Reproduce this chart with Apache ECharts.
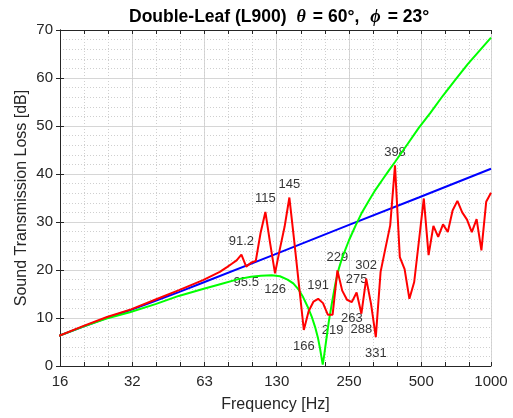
<!DOCTYPE html>
<html>
<head>
<meta charset="utf-8">
<script src="https://cdn.jsdelivr.net/npm/echarts@6/dist/echarts.min.js"></script>
<style>
html, body { margin: 0; padding: 0; background: #fff; }
#chart { width: 513px; height: 418px; }
</style>
</head>
<body>
<div id="chart"></div>
<script>
// frequency axis limits [Hz]
const fMin = 16;
const fMax = 1000;
const xTickValues = [16, 32, 64, 128, 256, 512, 1000];
const xTickLabels = ['16', '32', '63', '130', '250', '500', '1000'];

// red: computed double-leaf TL (1/50 decade points above ~90 Hz)
const redFreq = [15.85, 19.95, 25.12, 31.62, 39.81, 50.12, 63.1, 74.13, 79.43, 83.18, 87.1,
  91.2, 95.5, 100, 104.7, 109.6, 114.8, 120.2, 125.9, 131.8, 138, 144.5, 151.4, 158.5, 166,
  173.8, 182, 190.5, 199.5, 208.9, 218.8, 229.1, 239.9, 251.2, 263, 275.4, 288.4, 302, 316.2,
  331.1, 346.7, 363.1, 380.2, 398.1, 416.9, 436.5, 457.1, 478.6, 501.2, 524.8, 549.5, 575.4,
  602.6, 631, 660.7, 691.8, 724.4, 758.6, 794.3, 831.8, 871, 912, 955, 1000];
const redTL = [6.3, 8.3, 10.2, 11.8, 13.8, 15.8, 17.9, 19.6, 20.6, 21.3, 22.0,
  23.2, 20.7, 21.5, 21.9, 27.7, 32.1, 25.5, 19.3, 24.3, 29.0, 35.1, 26.0, 16.8, 7.5,
  11.4, 13.4, 14.0, 13.1, 10.7, 10.7, 19.9, 15.7, 13.8, 13.3, 15.3, 10.9, 18.2, 13.0,
  6.0, 19.6, 24.5, 29.3, 41.8, 22.7, 20.2, 14.0, 17.5, 26.2, 34.9, 23.1, 29.2,
  26.9, 29.5, 27.9, 32.4, 34.4, 32.0, 30.5, 27.9, 30.6, 24.1, 34.2, 36.1];

// blue: single-leaf mass law
const blueFreq = [15.85, 20, 25, 31.25, 40, 50, 62.5, 125, 250, 500, 1000];
const blueTL = [6.3, 8.2, 10.0, 11.6, 13.6, 15.4, 17.3, 23.2, 29.2, 35.1, 41.1];

// green: theoretical double-leaf with mass-air-mass dip
const greenFreq = [15.85, 20, 25, 31.25, 40, 50, 62.5, 75, 88.6, 100, 110, 122, 132, 142, 150,
  158, 165, 172, 179, 185, 190, 194, 197, 199, 201.5, 204, 207, 211, 218, 225, 232, 240, 256,
  273, 290, 311, 330, 354, 375, 398, 450, 500, 560, 630, 707, 800, 900, 1000];
const greenTL = [6.3, 8.2, 9.9, 11.2, 12.9, 14.6, 16.0, 17.1, 18.1, 18.6, 18.8, 18.9, 18.7,
  18.0, 17.2, 15.9, 14.3, 12.4, 10.3, 8.1, 5.9, 3.6, 1.6, 0.3, 2.0, 4.0, 6.3, 9.3, 13.5,
  17.3, 20.2, 22.6, 26.2, 29.3, 32.0, 34.6, 36.7, 38.9, 40.7, 42.5, 46.3, 49.6, 52.8, 56.3,
  59.5, 62.9, 65.8, 68.4];

// labelled extrema of the red curve
const peakFreq = [91.2, 114.8, 144.5, 190.5, 229.1, 275.4, 302, 398.1];
const dipFreq = [95.5, 125.9, 166, 218.8, 263, 288.4, 331.1];

const font = 'Liberation Sans, Arial, Helvetica, sans-serif';
const serif = 'Liberation Serif, DejaVu Serif, serif';
const axisColor = '#262626';
const thirds = 3 * Math.log2(fMax / fMin);

const pairs = (xs, ys) => xs.map((x, i) => [x, ys[i]]);
const marks = fs => fs.map(f => [f, redTL[redFreq.indexOf(f)]]);

const chart = echarts.init(document.getElementById('chart'));

const labelStyle = {
  show: true,
  fontFamily: font,
  fontSize: 13,
  color: '#000',
  formatter: p => String(Number(p.value[0].toPrecision(3)))
};

const option = {
  animation: false,
  backgroundColor: '#fff',
  title: {
    left: 129,
    top: 8,
    padding: 0,
    text: '{b|Double-Leaf (L900)}{g|θ}{b|= 60°,}{p|ϕ}{b|= 23°}',
    textStyle: {
      rich: {
        b: { fontFamily: font, fontWeight: 'bold', fontSize: 17.5, color: '#000' },
        g: { fontFamily: serif, fontStyle: 'italic', fontSize: 18, color: '#000', padding: [0, 7, 0, 10] },
        p: { fontFamily: serif, fontStyle: 'italic', fontSize: 18, color: '#000', padding: [0, 7, 0, 11] }
      }
    }
  },
  grid: { left: 60, right: 22, top: 30, bottom: 52 },
  xAxis: [
    {
      type: 'log',
      logBase: 2,
      min: fMin,
      max: fMax,
      position: 'bottom',
      name: 'Frequency [Hz]',
      nameLocation: 'middle',
      nameGap: 31,
      nameMoveOverlap: false,
      nameTextStyle: { fontFamily: font, fontSize: 16, color: axisColor },
      axisLine: { show: true, lineStyle: { color: axisColor, width: 1 } },
      axisTick: { show: false },
      axisLabel: {
        fontFamily: font, fontSize: 15, color: axisColor, margin: 8,
        formatter: v => {
          let best = 0;
          xTickValues.forEach((t, i) => {
            if (Math.abs(Math.log(t / v)) < Math.abs(Math.log(xTickValues[best] / v))) best = i;
          });
          return xTickLabels[best];
        }
      },
      splitLine: { show: true, lineStyle: { color: '#d6d6d6', width: 1 } }
    },
    {
      // third-octave minor grid and ticks
      type: 'value',
      min: 0,
      max: thirds,
      interval: 1,
      position: 'bottom',
      axisLine: { show: false },
      axisLabel: { show: false },
      axisTick: { show: true, inside: true, length: 4, lineStyle: { color: axisColor } },
      splitLine: { show: true, lineStyle: { color: '#cfcfcf', type: [1, 2], width: 1 } }
    },
    {
      type: 'value',
      min: 0,
      max: thirds,
      interval: 1,
      position: 'top',
      axisLine: { show: true, lineStyle: { color: axisColor, width: 1 } },
      axisLabel: { show: false },
      axisTick: { show: true, inside: true, length: 4, lineStyle: { color: axisColor } },
      splitLine: { show: false }
    }
  ],
  yAxis: [
    {
      type: 'value',
      min: 0,
      max: 70,
      interval: 10,
      position: 'left',
      name: 'Sound Transmission Loss [dB]',
      nameLocation: 'middle',
      nameGap: 30,
      nameMoveOverlap: false,
      nameTextStyle: { fontFamily: font, fontSize: 16, color: axisColor },
      axisLine: { show: true, lineStyle: { color: axisColor, width: 1 } },
      axisTick: { show: true, inside: true, length: 4, lineStyle: { color: axisColor } },
      axisLabel: { fontFamily: font, fontSize: 15, color: axisColor, margin: 7 },
      splitLine: { show: true, lineStyle: { color: '#d6d6d6', width: 1 } },
      minorTick: { show: false, splitNumber: 5 },
      minorSplitLine: { show: true, lineStyle: { color: '#cfcfcf', type: [1, 2], width: 1 } }
    },
    {
      type: 'value',
      min: 0,
      max: 70,
      interval: 10,
      position: 'right',
      axisLine: { show: true, lineStyle: { color: axisColor, width: 1 } },
      axisTick: { show: true, inside: true, length: 4, lineStyle: { color: axisColor } },
      axisLabel: { show: false },
      splitLine: { show: false }
    }
  ],
  series: [
    {
      name: 'mass law',
      type: 'line',
      data: pairs(blueFreq, blueTL),
      showSymbol: false,
      lineStyle: { color: '#0000ff', width: 2 }
    },
    {
      name: 'double leaf',
      type: 'line',
      data: pairs(greenFreq, greenTL),
      showSymbol: false,
      lineStyle: { color: '#00ff00', width: 2 }
    },
    {
      name: 'L900',
      type: 'line',
      data: pairs(redFreq, redTL),
      showSymbol: false,
      lineStyle: { color: '#ff0000', width: 2 }
    },
    {
      type: 'scatter',
      data: marks(peakFreq),
      symbolSize: 1,
      itemStyle: { color: 'rgba(0,0,0,0)' },
      label: Object.assign({ position: 'top', distance: 6 }, labelStyle)
    },
    {
      type: 'scatter',
      data: marks(dipFreq),
      symbolSize: 1,
      itemStyle: { color: 'rgba(0,0,0,0)' },
      label: Object.assign({ position: 'bottom', distance: 9 }, labelStyle)
    }
  ]
};

chart.setOption(option);
</script>
</body>
</html>
